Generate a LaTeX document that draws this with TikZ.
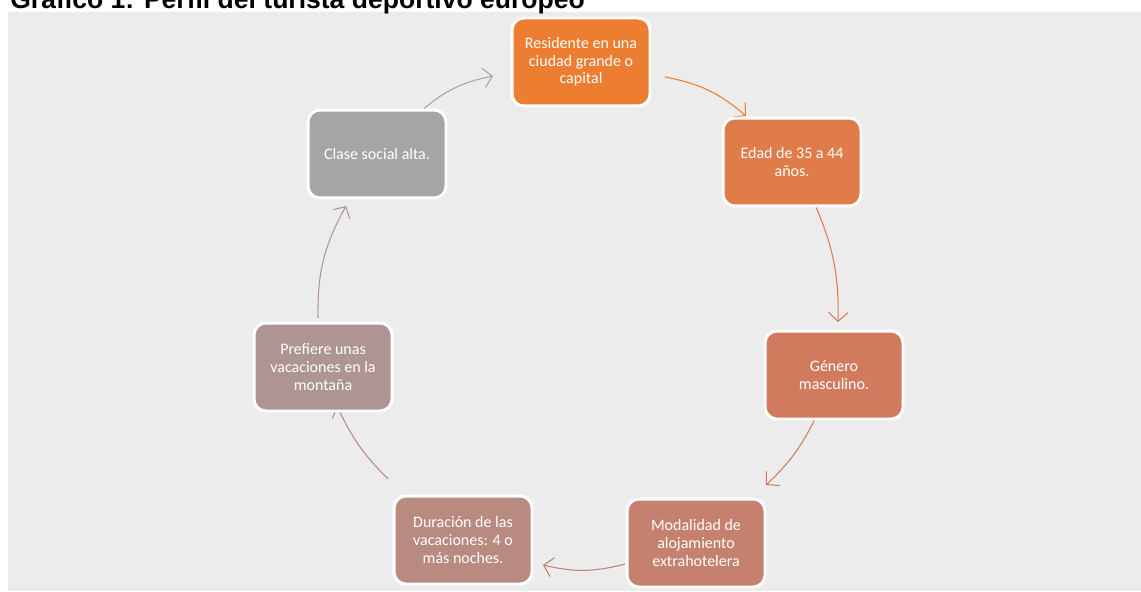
\documentclass[tikz,border=0pt]{standalone}
\usepackage{fontspec}
\setmainfont{Carlito}
\newfontfamily\titlefont{Liberation Sans}
\usepackage{tikz}
\usetikzlibrary{arrows.meta}
\pgfdeclarelayer{background}
\pgfsetlayers{background,main}

\definecolor{panelgray}{HTML}{ECECEC}
\definecolor{cres}{HTML}{ED7D31}
\definecolor{cedad}{HTML}{E07B4A}
\definecolor{cgen}{HTML}{D27A5E}
\definecolor{cmod}{HTML}{C5806F}
\definecolor{cdur}{HTML}{B98A80}
\definecolor{cpref}{HTML}{AE9593}
\definecolor{cclase}{HTML}{A5A5A5}

\tikzset{
  stage/.style={draw=white, line width=1.7pt, rounded corners=0.24cm,
    minimum width=2.76cm, minimum height=1.76cm, inner sep=0pt, outer sep=0pt,
    align=center, text=white, font=\fontsize{9.1}{10}\selectfont},
  cycle/.style={-{Straight Barb[length=5pt,width=11pt]}, line width=0.6pt, bend left=#1},
  cycle/.default=12
}

\begin{document}
\begin{tikzpicture}[x=0.02cm, y=-0.02cm]
            \useasboundingbox (0,0) rectangle (1141,591);
            \node[anchor=base west, inner sep=0pt, font=\titlefont\bfseries\fontsize{15.1}{17}\selectfont] (title) at (10,9) {Gráfico 1: Perfil del turista deportivo europeo};

            \node[stage, fill=cres] (res) at (581,62) {Residente en una\\ciudad grande o\\capital};
            \node[stage, fill=cedad] (edad) at (792,162) {Edad de 35 a 44\\años.};
            \node[stage, fill=cgen] (gen) at (834,375) {Género\\masculino.};
            \node[stage, fill=cmod] (mod) at (696,543) {Modalidad de\\alojamiento\\extrahotelera};
            \node[stage, fill=cdur] (dur) at (463,540) {Duración de las\\vacaciones: 4 o\\más noches.};
            \node[stage, fill=cpref] (pref) at (323,367) {Prefiere unas\\vacaciones en la\\montaña};
            \node[stage, fill=cclase] (clase) at (377,154) {Clase social alta.};

            \begin{pgfonlayer}{background}
            \fill[panelgray] (8,12) rectangle (1141,591);
            \draw[cycle=15, cres] ([shift={(15,15)}]res.east) to ([shift={(-46,-2)}]edad.north);
            \draw[cycle=12, cedad] ([shift={(24,1)}]edad.south) to ([shift={(4,-9)}]gen.north);
            \draw[cycle=10, cgen] ([shift={(-19,0)}]gen.south) to ([shift={(1,-14)}]mod.north east);
            \draw[cycle=14, cmod] ([shift={(-2,21)}]mod.west) to ([shift={(11,25)}]dur.east);
            \draw[cycle=10, cdur] ([shift={(-6,-17)}]dur.north west) to ([shift={(14,-5)}]pref.south);
            \draw[cycle=15, cpref] ([shift={(-5,-5)}]pref.north) to ([shift={(-31,8)}]clase.south);
            \draw[cycle=15, cclase] ([shift={(43,2)}]clase.north) to ([shift={(-19,14)}]res.west);
            \end{pgfonlayer}
\end{tikzpicture}
\end{document}
